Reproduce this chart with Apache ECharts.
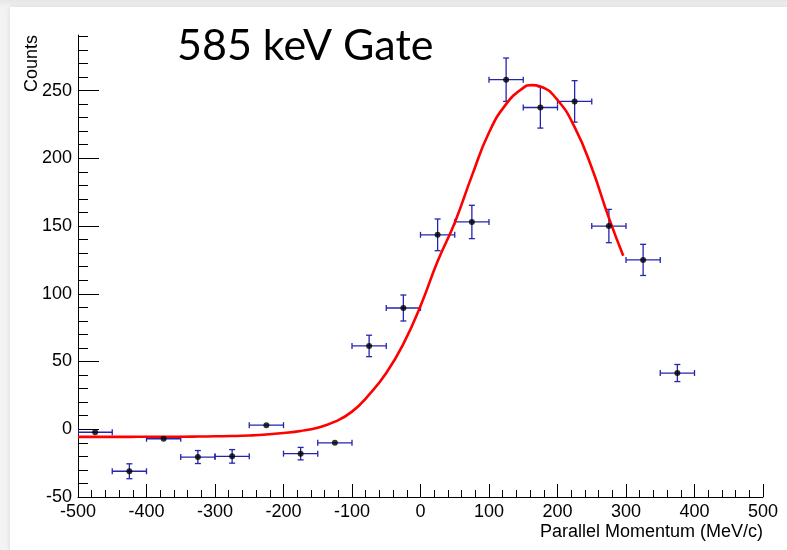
<!DOCTYPE html>
<html>
<head>
<meta charset="utf-8">
<title>585 keV Gate</title>
<script src="https://cdn.jsdelivr.net/npm/echarts@6/dist/echarts.min.js"></script>
<style>
  html, body { margin: 0; padding: 0; width: 787px; height: 550px; overflow: hidden;
    background: linear-gradient(#e6e6e6, #f3f3f3 7px); }
  #sheet { position: absolute; left: 10px; top: 7px; right: 0; bottom: 0; background: #fff;
    box-shadow: 0 0 5px rgba(0,0,0,0.12); }
  #chart { position: absolute; left: 0; top: 0; width: 787px; height: 550px; }
</style>
</head>
<body>
<div id="sheet"></div>
<div id="chart"></div>
<script>
// Parallel-momentum distribution gated on the 585 keV line.
const binCenters = [-475, -425, -375, -325, -275, -225, -175, -125, -75, -25, 25, 75, 125, 175, 225, 275, 325, 375];
const counts     = [-2.2, -31, -7, -20.5, -20, 3, -18, -10, 61.5, 89.5, 143.5, 153, 258, 237.5, 242, 150, 125, 41.5];
const countErr   = [0, 5.5, 0, 4.8, 5.0, 0, 4.6, 0, 7.9, 9.6, 11.7, 12.3, 16, 15.2, 15.3, 12.3, 11.5, 6.3];
const binHalfWidth = 25;

// Fitted curve, sampled every 25 MeV/c (plus the peak)
const fitX = [-500, -475, -450, -425, -400, -375, -350, -325, -300, -275, -250, -225, -200, -175, -150, -125, -100, -75, -50, -25, 0, 25, 50, 75, 100, 125, 150, 162, 175, 200, 225, 250, 275, 296];
const fitY = [-5.6, -5.6, -5.6, -5.6, -5.5, -5.5, -5.5, -5.4, -5.2, -5.0, -4.6, -3.9, -2.8, -1.3, 1.2, 5.6, 13, 25.5, 41.5, 63, 91, 124, 152.5, 187, 219, 240, 252, 254, 253, 243, 223, 193, 156, 128];

// Axis ticks and labels
const xTickLabels = [-500, -400, -300, -200, -100, 0, 100, 200, 300, 400, 500];
const yMajorTicks = [-50, 0, 50, 100, 150, 200, 250];
const yMinorTicks = [];
for (let v = -50; v <= 290; v += 10) yMinorTicks.push(v);

const titleText = '585 keV Gate';
const xTitle = 'Parallel Momentum (MeV/c)';
const yTitle = 'Counts';

const chart = echarts.init(document.getElementById('chart'), null, { renderer: 'canvas' });

const errData = binCenters.map((x, i) => [x, counts[i], binHalfWidth, countErr[i]]);
const fitData = fitX.map((x, i) => [x, fitY[i]]);
const pointData = binCenters.map((x, i) => [x, counts[i]]);

const errColor = '#2424b0';
const capHalf = 3;

function renderErrorBar(params, api) {
  const x = api.value(0), y = api.value(1), ex = api.value(2), ey = api.value(3);
  const l = api.coord([x - ex, y]);
  const r = api.coord([x + ex, y]);
  const style = { stroke: errColor, lineWidth: 1.3, fill: null };
  const children = [
    { type: 'line', shape: { x1: l[0], y1: l[1], x2: r[0], y2: r[1] }, style },
    { type: 'line', shape: { x1: l[0], y1: l[1] - capHalf, x2: l[0], y2: l[1] + capHalf }, style },
    { type: 'line', shape: { x1: r[0], y1: r[1] - capHalf, x2: r[0], y2: r[1] + capHalf }, style }
  ];
  if (ey > 0) {
    const t = api.coord([x, y + ey]);
    const b = api.coord([x, y - ey]);
    children.push(
      { type: 'line', shape: { x1: t[0], y1: t[1], x2: b[0], y2: b[1] }, style },
      { type: 'line', shape: { x1: t[0] - capHalf, y1: t[1], x2: t[0] + capHalf, y2: t[1] }, style },
      { type: 'line', shape: { x1: b[0] - capHalf, y1: b[1], x2: b[0] + capHalf, y2: b[1] }, style }
    );
  }
  return { type: 'group', children };
}

const labelFont = { fontFamily: '"Liberation Sans", Arial, sans-serif', fontSize: 18, color: '#000' };

const option = {
  backgroundColor: 'transparent',
  animation: false,
  grid: { left: 78, right: 24, top: 35, bottom: 53, containLabel: false },
  xAxis: {
    type: 'value', min: -500, max: 500, interval: 100,
    axisLine: { show: true, onZero: false, lineStyle: { color: '#000', width: 1 } },
    axisTick: { show: true, inside: true, length: 13, lineStyle: { color: '#000' } },
    minorTick: { show: true, splitNumber: 5, length: 7, lineStyle: { color: '#000' } },
    axisLabel: Object.assign({ margin: 6, customValues: xTickLabels }, labelFont),
    splitLine: { show: false }
  },
  yAxis: [
    {
      type: 'value', min: -50, max: 291, position: 'left', offset: 0,
      axisLine: { show: true, onZero: false, lineStyle: { color: '#000', width: 1 } },
      axisTick: { show: true, inside: true, length: 21, customValues: yMajorTicks, lineStyle: { color: '#000' } },
      axisLabel: Object.assign({ margin: 6, customValues: yMajorTicks }, labelFont),
      splitLine: { show: false }
    },
    {
      type: 'value', min: -50, max: 291, position: 'left', offset: 0,
      axisLine: { show: false, onZero: false },
      axisTick: { show: true, inside: true, length: 10, customValues: yMinorTicks, lineStyle: { color: '#000' } },
      axisLabel: { show: false },
      splitLine: { show: false }
    }
  ],
  series: [
    {
      type: 'custom', name: 'errors', xAxisIndex: 0, yAxisIndex: 0,
      renderItem: renderErrorBar, data: errData, z: 2, clip: true,
      encode: { x: 0, y: 1 }
    },
    {
      type: 'line', name: 'fit', data: fitData, smooth: 0.5,
      showSymbol: false, symbol: 'none',
      lineStyle: { color: '#ff0000', width: 2.6 }, z: 3, clip: true
    },
    {
      type: 'scatter', name: 'counts', data: pointData, symbol: 'circle', symbolSize: 6,
      itemStyle: { color: '#000', borderWidth: 0 }, z: 4
    }
  ],
  graphic: [
    {
      type: 'text', left: 177, top: 25,
      style: { text: titleText, fontFamily: 'Lato, "Open Sans", sans-serif', fontSize: 43, fill: '#000' }
    },
    {
      type: 'text', x: 763, y: 532,
      style: { text: xTitle, align: 'right', verticalAlign: 'middle', fontFamily: labelFont.fontFamily, fontSize: 18, fill: '#000' }
    },
    {
      type: 'text', x: 32, y: 35, rotation: Math.PI / 2,
      style: { text: yTitle, align: 'right', verticalAlign: 'middle', fontFamily: labelFont.fontFamily, fontSize: 18, fill: '#000' }
    }
  ]
};

chart.setOption(option);
</script>
</body>
</html>
